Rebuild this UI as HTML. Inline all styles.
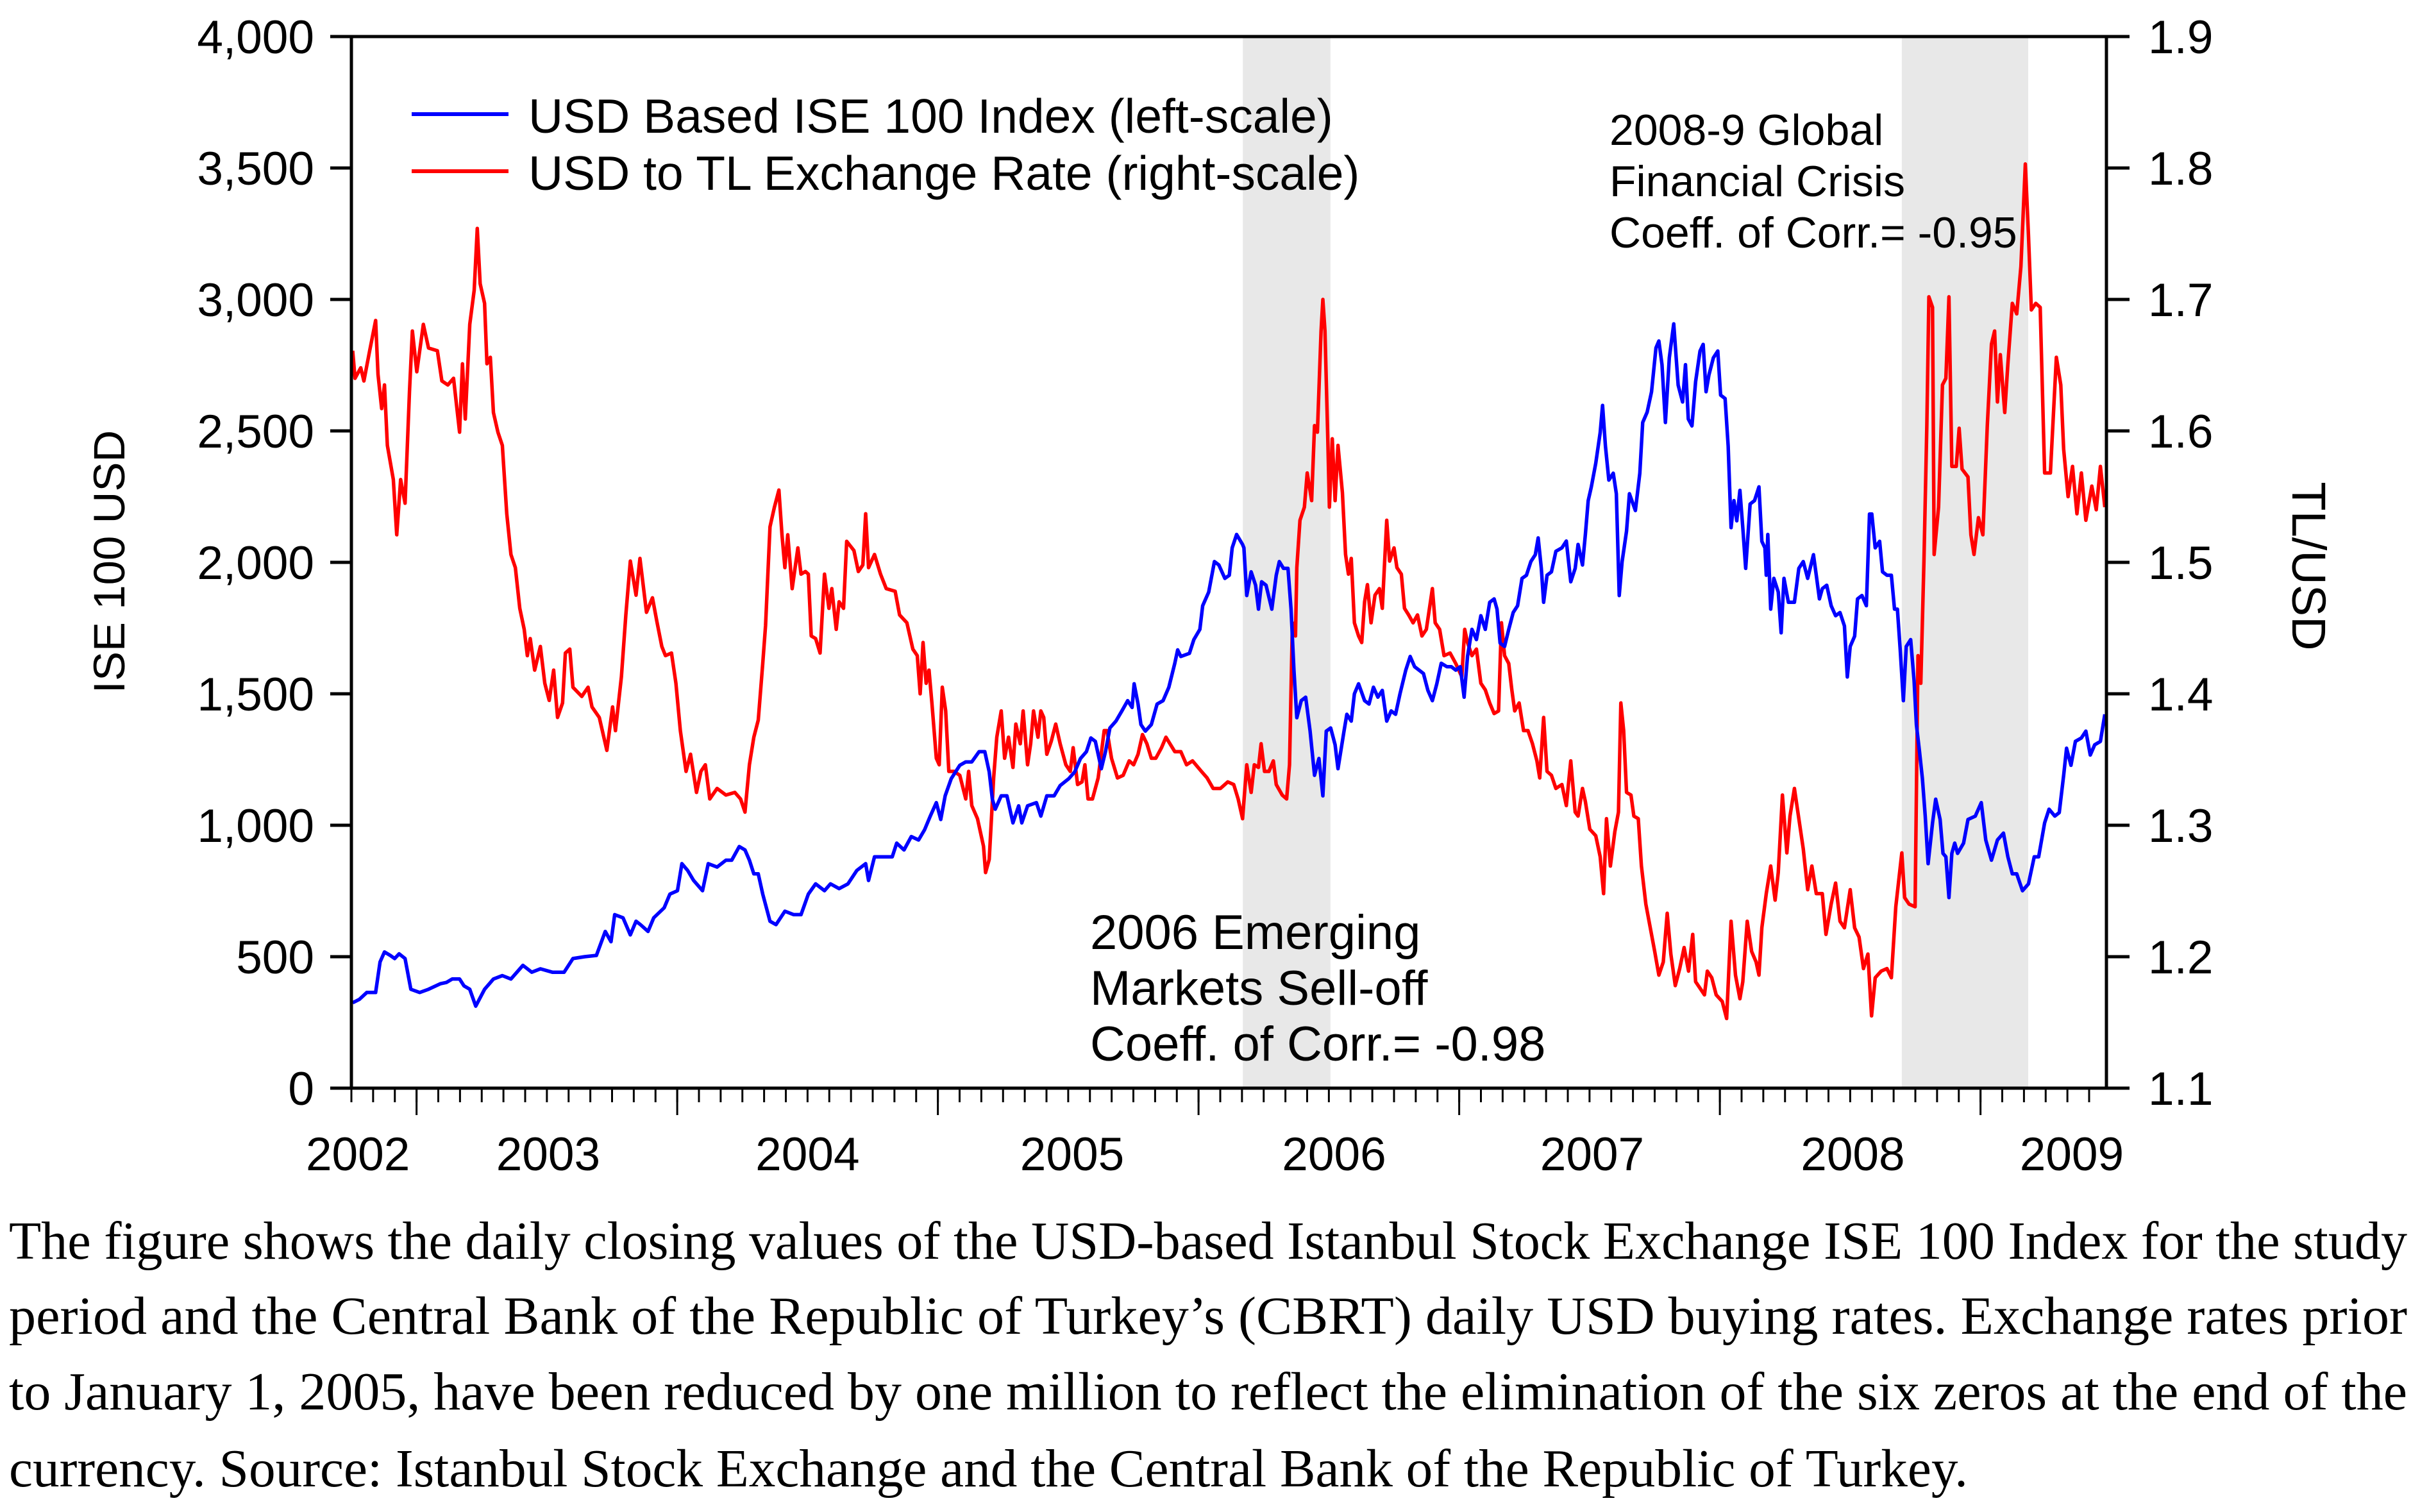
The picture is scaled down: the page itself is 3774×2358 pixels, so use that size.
<!DOCTYPE html>
<html>
<head>
<meta charset="utf-8">
<style>
html,body{margin:0;padding:0;background:#fff;}
body{width:3774px;height:2353px;overflow:hidden;}
svg text{font-family:"Liberation Sans",Arial,sans-serif;fill:#000;}
svg text.serif{font-family:"Liberation Serif","Times New Roman",serif;}
</style>
</head>
<body>
<svg id="chart" xmlns="http://www.w3.org/2000/svg" width="3774" height="2353" viewBox="0 0 3774 2353">
  <rect x="0" y="0" width="3774" height="2353" fill="#fff"/>
  <g id="shades"></g>
  <g id="series"></g>
  <g id="axes"></g>

  <g>
    <line x1="642" y1="178" x2="793" y2="178" stroke="#0000ff" stroke-width="6"/>
    <text x="824" y="207" font-size="75">USD Based ISE 100 Index (left-scale)</text>
    <line x1="642" y1="267" x2="793" y2="267" stroke="#ff0000" stroke-width="6"/>
    <text x="824" y="296" font-size="75">USD to TL Exchange Rate (right-scale)</text>
  </g>

  <g>
    <text x="1700" y="1480" font-size="76">2006 Emerging</text>
    <text x="1700" y="1567" font-size="76">Markets Sell-off</text>
    <text x="1700" y="1654" font-size="76">Coeff. of Corr.= -0.98</text>
  </g>
  <g>
    <text x="2510" y="226" font-size="68">2008-9 Global</text>
    <text x="2510" y="306" font-size="68">Financial Crisis</text>
    <text x="2510" y="386" font-size="68">Coeff. of Corr.= -0.95</text>
  </g>

  <text transform="translate(194,876) rotate(-90)" text-anchor="middle" font-size="69">ISE 100 USD</text>
  <text transform="translate(3575,883) rotate(90)" text-anchor="middle" font-size="74">TL/USD</text>

  <g>
    <text class="serif" x="14" y="1963" font-size="84" textLength="3740" lengthAdjust="spacingAndGlyphs">The figure shows the daily closing values of the USD-based Istanbul Stock Exchange ISE 100 Index for the study</text>
    <text class="serif" x="14" y="2080" font-size="84" textLength="3740" lengthAdjust="spacingAndGlyphs">period and the Central Bank of the Republic of Turkey’s (CBRT) daily USD buying rates. Exchange rates prior</text>
    <text class="serif" x="14" y="2198" font-size="84" textLength="3740" lengthAdjust="spacingAndGlyphs">to January 1, 2005, have been reduced by one million to reflect the elimination of the six zeros at the end of the</text>
    <text class="serif" x="14" y="2318" font-size="84" textLength="3055" lengthAdjust="spacingAndGlyphs">currency. Source: Istanbul Stock Exchange and the Central Bank of the Republic of Turkey.</text>
  </g>
</svg>

<script>
// ---------- data ----------
const leftTicks = [0, 500, 1000, 1500, 2000, 2500, 3000, 3500, 4000];
const leftTickLabels = ["0", "500", "1,000", "1,500", "2,000", "2,500", "3,000", "3,500", "4,000"];
const rightTicks = [1.1, 1.2, 1.3, 1.4, 1.5, 1.6, 1.7, 1.8, 1.9];
const rightTickLabels = ["1.1", "1.2", "1.3", "1.4", "1.5", "1.6", "1.7", "1.8", "1.9"];
const yearLabels = ["2002", "2003", "2004", "2005", "2006", "2007", "2008", "2009"];
const yearLabelDates = [2002.275, 2003.005, 2004.0, 2005.015, 2006.02, 2007.01, 2008.01, 2008.85];
const majorTickDates = [2002.5, 2003.5, 2004.5, 2005.5, 2006.5, 2007.5, 2008.5];
const shadeStarts = [2005.67, 2008.198];
const shadeEnds = [2006.006, 2008.683];

const redDates = [2002.255,2002.264,2002.286,2002.298,2002.320,2002.343,2002.352,2002.366,2002.377,2002.388,2002.411,2002.424,2002.439,2002.456,2002.473,2002.484,2002.501,2002.526,2002.546,2002.580,2002.597,2002.620,2002.642,2002.665,2002.676,2002.687,2002.704,2002.721,2002.733,2002.744,2002.761,2002.770,2002.783,2002.795,2002.812,2002.829,2002.846,2002.862,2002.879,2002.896,2002.913,2002.925,2002.936,2002.953,2002.975,2002.992,2003.009,2003.026,2003.041,2003.060,2003.071,2003.088,2003.100,2003.134,2003.158,2003.173,2003.201,2003.230,2003.252,2003.263,2003.286,2003.303,2003.320,2003.342,2003.357,2003.382,2003.405,2003.422,2003.441,2003.455,2003.478,2003.495,2003.512,2003.534,2003.551,2003.574,2003.591,2003.608,2003.625,2003.653,2003.687,2003.721,2003.743,2003.760,2003.777,2003.794,2003.811,2003.828,2003.839,2003.856,2003.873,2003.890,2003.902,2003.913,2003.924,2003.941,
2003.963,2003.975,2003.992,2004.003,2004.014,2004.031,2004.048,2004.065,2004.082,2004.093,2004.110,2004.121,2004.138,2004.150,2004.178,2004.195,2004.212,2004.223,2004.234,2004.257,2004.280,2004.302,2004.336,2004.353,2004.381,2004.404,2004.421,2004.432,2004.443,2004.455,2004.466,2004.477,2004.494,2004.505,2004.517,2004.530,2004.542,2004.562,2004.584,2004.607,2004.618,2004.630,2004.652,2004.675,2004.683,2004.697,2004.714,2004.726,2004.743,2004.756,2004.771,2004.788,2004.799,2004.816,2004.827,2004.844,2004.856,2004.867,2004.884,2004.895,2004.906,2004.918,2004.935,2004.952,2004.969,2004.991,2005.008,2005.019,2005.036,2005.053,2005.064,2005.076,2005.093,2005.115,2005.138,2005.149,2005.166,2005.189,2005.211,2005.234,2005.251,2005.268,2005.285,2005.302,2005.319,2005.336,2005.358,2005.375,2005.409,2005.432,2005.454,2005.477,2005.511,2005.533,2005.556,2005.584,2005.612,2005.635,2005.652,2005.669,
2005.685,2005.702,2005.714,2005.730,2005.740,2005.753,2005.770,2005.787,2005.798,2005.821,2005.838,2005.849,2005.860,2005.872,2005.877,2005.889,2005.906,2005.917,2005.934,2005.945,2005.956,2005.970,2005.977,2005.985,2005.996,2006.002,2006.013,2006.024,2006.035,2006.052,2006.064,2006.075,2006.086,2006.098,2006.114,2006.126,2006.137,2006.148,2006.162,2006.177,2006.194,2006.205,2006.222,2006.233,2006.250,2006.261,2006.278,2006.290,2006.306,2006.323,2006.340,2006.357,2006.374,2006.397,2006.408,2006.425,2006.442,2006.465,2006.487,2006.510,2006.521,2006.532,2006.549,2006.566,2006.583,2006.600,2006.617,2006.634,2006.651,2006.662,2006.674,2006.690,2006.702,2006.713,2006.730,2006.747,2006.764,2006.781,2006.798,2006.809,2006.824,2006.837,2006.854,2006.871,2006.894,2006.911,2006.928,2006.945,2006.956,2006.973,2006.984,2007.001,2007.024,2007.041,2007.054,2007.065,2007.080,2007.097,2007.111,2007.120,2007.131,2007.142,2007.159,2007.170,2007.187,2007.199,2007.216,2007.233,2007.250,2007.266,2007.283,2007.298,2007.312,2007.329,2007.346,2007.363,2007.380,
2007.396,2007.407,2007.424,2007.441,2007.452,2007.469,2007.486,2007.509,2007.526,2007.543,2007.560,2007.577,2007.588,2007.605,2007.622,2007.639,2007.650,2007.661,2007.678,2007.695,2007.712,2007.724,2007.740,2007.757,2007.769,2007.786,2007.803,2007.820,2007.837,2007.853,2007.870,2007.893,2007.907,2007.927,2007.944,2007.961,2007.978,2008.000,2008.017,2008.034,2008.051,2008.068,2008.082,2008.096,2008.119,2008.141,2008.158,2008.175,2008.198,2008.209,2008.226,2008.249,2008.260,2008.271,2008.283,2008.294,2008.302,2008.316,2008.322,2008.339,2008.354,2008.367,2008.379,2008.390,2008.407,2008.418,2008.429,2008.452,2008.463,2008.475,2008.492,2008.509,2008.526,2008.542,2008.554,2008.565,2008.576,2008.593,2008.605,2008.622,2008.639,2008.655,2008.672,2008.684,2008.695,2008.712,2008.729,2008.746,2008.768,2008.791,2008.808,2008.819,2008.836,2008.853,2008.870,2008.887,2008.904,2008.927,2008.944,2008.960,2008.977];
const redValues = [1.661,1.640,1.648,1.638,1.661,1.684,1.643,1.617,1.635,1.589,1.563,1.521,1.563,1.545,1.630,1.676,1.645,1.681,1.663,1.661,1.638,1.635,1.640,1.599,1.651,1.609,1.681,1.707,1.754,1.712,1.697,1.651,1.656,1.614,1.599,1.589,1.537,1.506,1.496,1.465,1.449,1.429,1.442,1.418,1.436,1.408,1.395,1.418,1.382,1.393,1.431,1.434,1.405,1.398,1.405,1.390,1.382,1.357,1.390,1.372,1.413,1.460,1.501,1.475,1.503,1.462,1.473,1.455,1.436,1.429,1.431,1.408,1.372,1.341,1.354,1.325,1.341,1.346,1.320,1.328,1.323,1.325,1.320,1.310,1.346,1.367,1.380,1.423,1.452,1.527,1.542,1.555,1.521,1.496,1.521,1.480,
1.511,1.491,1.493,1.491,1.444,1.442,1.431,1.491,1.465,1.480,1.449,1.470,1.465,1.516,1.509,1.493,1.498,1.537,1.496,1.506,1.491,1.480,1.478,1.460,1.454,1.434,1.429,1.400,1.439,1.408,1.418,1.393,1.351,1.346,1.405,1.387,1.341,1.341,1.338,1.320,1.341,1.315,1.305,1.284,1.264,1.274,1.336,1.367,1.387,1.351,1.367,1.344,1.377,1.362,1.387,1.346,1.362,1.387,1.367,1.387,1.382,1.354,1.364,1.377,1.362,1.346,1.341,1.359,1.331,1.333,1.346,1.320,1.320,1.336,1.372,1.372,1.351,1.336,1.338,1.349,1.346,1.354,1.369,1.362,1.351,1.351,1.359,1.367,1.356,1.356,1.346,1.349,1.341,1.336,1.328,1.328,1.333,1.331,1.320,1.305,
1.346,1.325,1.346,1.344,1.362,1.341,1.341,1.349,1.331,1.323,1.320,1.346,1.454,1.444,1.496,1.532,1.542,1.568,1.547,1.604,1.599,1.676,1.700,1.676,1.594,1.542,1.594,1.547,1.589,1.553,1.506,1.491,1.503,1.454,1.444,1.439,1.470,1.483,1.454,1.475,1.480,1.465,1.532,1.501,1.511,1.496,1.491,1.465,1.460,1.454,1.460,1.444,1.449,1.480,1.454,1.449,1.429,1.431,1.423,1.413,1.449,1.439,1.429,1.434,1.408,1.403,1.393,1.385,1.387,1.454,1.429,1.423,1.403,1.387,1.393,1.372,1.372,1.362,1.349,1.336,1.382,1.341,1.338,1.328,1.331,1.315,1.349,1.310,1.307,1.328,1.318,1.297,1.292,1.276,1.248,1.305,1.269,1.295,1.310,1.393,1.372,1.325,1.323,1.307,1.305,1.269,1.240,1.222,1.204,1.186,1.196,1.233,1.202,1.178,1.191,1.207,1.189,
1.217,1.181,1.176,1.171,1.189,1.184,1.171,1.166,1.153,1.227,1.186,1.168,1.181,1.227,1.204,1.196,1.186,1.222,1.248,1.269,1.243,1.264,1.323,1.279,1.307,1.328,1.305,1.282,1.251,1.269,1.248,1.248,1.217,1.240,1.256,1.227,1.222,1.251,1.222,1.215,1.191,1.202,1.155,1.184,1.189,1.191,1.184,1.238,1.279,1.245,1.240,1.238,1.429,1.408,1.501,1.604,1.702,1.694,1.506,1.542,1.635,1.640,1.702,1.573,1.573,1.602,1.571,1.565,1.521,1.506,1.534,1.521,1.604,1.666,1.676,1.622,1.658,1.614,1.651,1.697,1.689,1.725,1.803,1.749,1.692,1.697,1.694,1.568,1.568,1.656,1.635,1.586,1.550,1.573,1.537,1.568,1.532,1.558,1.540,1.573,1.542];

const blueDates = [2002.255,2002.281,2002.309,2002.343,2002.360,2002.377,2002.399,2002.416,2002.433,2002.456,2002.478,2002.512,2002.546,2002.591,2002.614,2002.637,2002.665,2002.682,2002.704,2002.727,2002.761,2002.795,2002.829,2002.862,2002.908,2002.942,2002.975,2003.021,2003.066,2003.100,2003.145,2003.190,2003.224,2003.246,2003.260,2003.292,2003.320,2003.342,2003.359,2003.388,2003.410,2003.450,2003.472,2003.501,2003.518,2003.540,2003.563,2003.597,2003.619,2003.653,2003.687,2003.709,2003.738,2003.760,2003.777,2003.794,2003.811,2003.828,2003.856,2003.879,2003.913,2003.947,
2003.975,2004.003,2004.031,2004.065,2004.088,2004.121,2004.155,2004.189,2004.223,2004.234,2004.257,2004.291,2004.325,2004.342,2004.370,2004.398,2004.426,2004.449,2004.471,2004.494,2004.511,2004.528,2004.551,2004.584,2004.607,2004.630,2004.658,2004.680,2004.697,2004.709,2004.720,2004.743,2004.765,2004.788,2004.810,2004.822,2004.844,2004.878,2004.895,2004.918,2004.946,2004.969,2005.002,2005.025,2005.047,2005.070,2005.087,2005.104,2005.127,2005.143,2005.160,2005.183,2005.206,2005.228,2005.245,2005.253,2005.268,2005.279,2005.296,2005.319,2005.341,2005.364,2005.386,2005.409,2005.420,2005.432,2005.465,2005.482,2005.505,2005.516,2005.539,2005.561,2005.578,2005.601,2005.618,2005.629,2005.646,2005.669,
2005.674,2005.685,2005.702,2005.719,2005.730,2005.742,2005.759,2005.781,2005.798,2005.810,2005.826,2005.843,2005.855,2005.866,2005.877,2005.894,2005.911,2005.928,2005.945,2005.962,2005.977,2005.990,2006.007,2006.024,2006.035,2006.058,2006.069,2006.086,2006.098,2006.114,2006.137,2006.154,2006.171,2006.188,2006.205,2006.222,2006.239,2006.256,2006.273,2006.295,2006.312,2006.329,2006.346,2006.363,2006.380,2006.397,2006.414,2006.431,2006.453,2006.470,2006.487,2006.504,2006.519,2006.532,2006.549,2006.566,2006.583,2006.600,2006.617,2006.634,2006.645,2006.657,2006.674,2006.690,2006.707,2006.724,2006.741,2006.758,2006.775,2006.792,2006.803,2006.815,2006.824,2006.837,2006.854,2006.871,2006.894,2006.911,2006.928,2006.945,2006.956,2006.973,2006.984,2006.995,2007.007,2007.024,2007.041,2007.050,2007.061,2007.074,2007.091,2007.103,2007.114,2007.125,2007.142,2007.153,2007.176,2007.193,2007.204,2007.221,2007.238,2007.255,2007.266,2007.278,2007.291,2007.306,2007.323,2007.340,2007.357,2007.368,2007.379,2007.393,
2007.407,2007.424,2007.436,2007.447,2007.458,2007.475,2007.492,2007.503,2007.520,2007.532,2007.543,2007.554,2007.565,2007.577,2007.588,2007.599,2007.616,2007.633,2007.650,2007.661,2007.673,2007.678,2007.684,2007.695,2007.707,2007.724,2007.735,2007.746,2007.763,2007.786,2007.803,2007.820,2007.837,2007.859,2007.870,2007.882,2007.893,2007.910,2007.927,2007.944,2007.961,2007.978,2007.989,2008.000,2008.017,2008.028,2008.045,2008.062,2008.074,2008.083,2008.096,2008.113,2008.124,2008.141,2008.158,2008.170,2008.181,2008.192,2008.204,2008.215,2008.232,2008.245,2008.254,2008.266,2008.277,2008.288,2008.299,2008.316,2008.328,2008.345,2008.356,2008.367,2008.379,2008.390,2008.401,2008.412,2008.435,2008.452,2008.480,2008.503,2008.520,2008.542,2008.565,2008.588,2008.605,2008.622,2008.639,2008.661,2008.684,2008.706,2008.723,2008.746,2008.763,2008.785,2008.802,2008.819,2008.830,2008.847,2008.864,2008.887,2008.904,2008.921,2008.938,2008.960,2008.977];
const blueValues = [325,338,364,364,480,518,505,493,511,493,376,364,376,397,402,415,415,389,376,312,376,415,428,415,467,441,454,441,441,493,500,505,596,557,660,648,583,635,622,596,648,686,738,751,854,828,790,751,854,841,867,867,919,906,867,815,815,738,635,622,673,660,
660,738,777,751,777,759,777,828,854,790,880,880,880,932,906,957,944,983,1035,1086,1022,1112,1177,1228,1241,1241,1280,1280,1203,1099,1061,1112,1112,1009,1074,1009,1074,1086,1035,1112,1112,1151,1177,1203,1254,1280,1332,1319,1215,1280,1370,1396,1435,1474,1448,1538,1461,1383,1358,1383,1461,1474,1525,1616,1667,1642,1654,1706,1745,1835,1887,2003,1990,1939,1951,2055,2106,2068,
2055,1874,1964,1913,1822,1926,1913,1822,1951,2003,1977,1977,1822,1590,1409,1474,1487,1358,1190,1254,1112,1358,1370,1306,1215,1358,1422,1396,1500,1538,1474,1461,1525,1487,1513,1396,1435,1422,1500,1590,1642,1603,1590,1577,1513,1474,1538,1616,1603,1603,1590,1603,1487,1642,1745,1706,1797,1745,1848,1861,1822,1693,1680,1745,1809,1835,1939,1951,2003,2029,2093,1977,1848,1951,1964,2042,2055,2081,1926,1977,2068,1990,2106,2235,2287,2377,2494,2597,2442,2313,2339,2261,1874,2003,2119,2261,2197,2339,2532,2571,2649,2816,2842,2752,2532,2778,2907,2674,2610,2752,2545,2519,
2687,2804,2829,2649,2713,2778,2804,2636,2623,2442,2132,2235,2158,2274,2132,1977,2222,2235,2287,2080,2055,1951,2106,1822,1939,1887,1732,1939,1848,1848,1977,2003,1939,2029,1951,1861,1900,1913,1835,1797,1809,1758,1564,1680,1719,1861,1874,1835,2184,2184,2055,2080,1964,1951,1951,1822,1822,1667,1474,1680,1706,1551,1383,1280,1177,1035,854,1009,1099,1022,893,880,725,893,932,893,932,1022,1035,1086,944,867,944,970,880,815,815,751,777,880,880,1009,1061,1035,1048,1190,1293,1228,1319,1332,1358,1267,1306,1319,1422];

// ---------- geometry ----------
const PL = 548, PR = 3285, PT = 57, PB = 1697;
const T0 = 2002.25, T1 = 2002.25 + (PR - PL) / 406.5;
const NS = "http://www.w3.org/2000/svg";
function xScale(t) { return PL + (t - T0) / (T1 - T0) * (PR - PL); }
function yLeft(v) { return PB - (v - 0) / (4000 - 0) * (PB - PT); }
function yRight(v) { return PB - (v - 1.1) / (1.9 - 1.1) * (PB - PT); }
function mk(tag, attrs, parent) {
  const e = document.createElementNS(NS, tag);
  for (const k in attrs) e.setAttribute(k, attrs[k]);
  parent.appendChild(e);
  return e;
}

const shadesG = document.getElementById('shades');
const seriesG = document.getElementById('series');
const axesG = document.getElementById('axes');

// shading
for (let i = 0; i < shadeStarts.length; i++) {
  const r = mk('rect', {x: xScale(shadeStarts[i]), y: PT, width: xScale(shadeEnds[i]) - xScale(shadeStarts[i]), height: PB - PT, fill: '#e8e8e8'}, shadesG);
  
  
}

// series
function linePath(dates, vals, yf) {
  let d = '';
  for (let i = 0; i < dates.length; i++) {
    d += (i ? 'L' : 'M') + xScale(dates[i]).toFixed(1) + ',' + yf(vals[i]).toFixed(1);
  }
  return d;
}
const redPath = mk('path', {d: linePath(redDates, redValues, yRight), fill: 'none', stroke: '#ff0000', 'stroke-width': 5.5, 'stroke-linejoin': 'round'}, seriesG);


const bluePath = mk('path', {d: linePath(blueDates, blueValues, yLeft), fill: 'none', stroke: '#0000ff', 'stroke-width': 5.5, 'stroke-linejoin': 'round'}, seriesG);



// frame
const frame = mk('rect', {x: PL, y: PT, width: PR - PL, height: PB - PT, fill: 'none', stroke: '#000', 'stroke-width': 5}, axesG);



// left ticks
for (let i = 0; i < leftTicks.length; i++) {
  const y = yLeft(leftTicks[i]);
  const tk = mk('line', {x1: PL - 33, x2: PL, y1: y, y2: y, stroke: '#000', 'stroke-width': 5}, axesG);
  
  
  const tx = mk('text', {x: 490, y: y + 26, 'text-anchor': 'end', 'font-size': 73}, axesG);
  tx.textContent = leftTickLabels[i];
  
  
}
// right ticks
for (let i = 0; i < rightTicks.length; i++) {
  const y = yRight(rightTicks[i]);
  const tk = mk('line', {x1: PR, x2: PR + 36, y1: y, y2: y, stroke: '#000', 'stroke-width': 5}, axesG);
  
  
  const tx = mk('text', {x: 3350, y: y + 26, 'text-anchor': 'start', 'font-size': 73}, axesG);
  tx.textContent = rightTickLabels[i];
  
  
}
// minor (monthly) ticks
for (let m = 0; ; m++) {
  const t = T0 + m / 12;
  if (t > T1 + 0.001) break;
  const x = xScale(t);
  const tk = mk('line', {x1: x, x2: x, y1: PB, y2: PB + 22, stroke: '#000', 'stroke-width': 3}, axesG);
  
  
}
// major ticks
for (let i = 0; i < majorTickDates.length; i++) {
  const x = xScale(majorTickDates[i]);
  const tk = mk('line', {x1: x, x2: x, y1: PB, y2: PB + 42, stroke: '#000', 'stroke-width': 3}, axesG);
  
  
}
// year labels
for (let i = 0; i < yearLabels.length; i++) {
  const tx = mk('text', {x: xScale(yearLabelDates[i]), y: 1825, 'text-anchor': 'middle', 'font-size': 73}, axesG);
  tx.textContent = yearLabels[i];
  
  
}
</script>
</body>
</html>
